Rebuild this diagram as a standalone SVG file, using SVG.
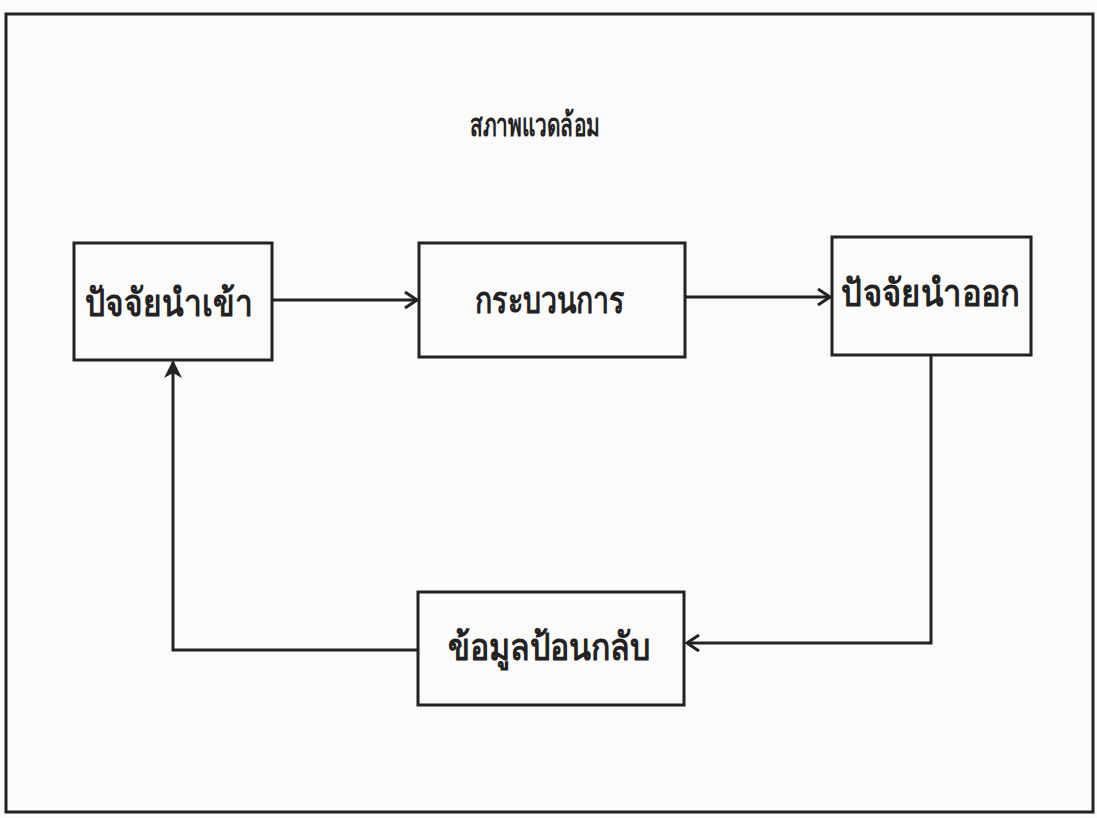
<svg xmlns="http://www.w3.org/2000/svg" width="1097" height="818" viewBox="0 0 1097 818">
<style>
.box{fill:none;stroke:#222;stroke-width:3}
.ln{fill:none;stroke:#222;stroke-width:3}
.t{font-family:"Noto Sans","DejaVu Sans",sans-serif;font-size:38px;fill:#222;text-anchor:middle;font-weight:bold}
.tt{font-size:32px}
</style>
<defs>
<marker id="open" markerWidth="16" markerHeight="18" refX="14" refY="9" orient="auto" markerUnits="userSpaceOnUse">
<path d="M2,1 L14,9 L2,17" fill="none" stroke="#222" stroke-width="3"/>
</marker>
<marker id="solid" markerWidth="18" markerHeight="18" refX="16" refY="9" orient="auto" markerUnits="userSpaceOnUse">
<path d="M0,0 L18,9 L0,18 L5,9 Z" fill="#222"/>
</marker>
</defs>
<rect width="1097" height="818" fill="#fbfbfa"/>
<rect x="6" y="14" width="1087" height="798" class="box" stroke-width="3.5"/>
<g id="title"><text transform="translate(535,136) scale(0.65,1)" class="t tt">สภาพแวดล้อม</text></g>
<g id="input"><rect x="74" y="243" width="198" height="117" class="box"/><text transform="translate(169,316) scale(0.835,1)" class="t">ปัจจัยนำเข้า</text></g>
<g id="process"><rect x="419" y="243" width="266" height="114" class="box"/><text transform="translate(550,313) scale(0.75,1)" class="t">กระบวนการ</text></g>
<g id="output"><rect x="832" y="237" width="199" height="118" class="box"/><text transform="translate(931,306) scale(0.865,1)" class="t">ปัจจัยนำออก</text></g>
<g id="feedback"><rect x="418" y="592" width="266" height="113" class="box"/><text transform="translate(549,660) scale(0.845,1)" class="t">ข้อมูลป้อนกลับ</text></g>
<g id="connectors">
<line x1="272" y1="300" x2="417" y2="300" class="ln" marker-end="url(#open)"/>
<line x1="685" y1="297" x2="830" y2="297" class="ln" marker-end="url(#open)"/>
<polyline points="931,355 931,643 687,643" class="ln" marker-end="url(#open)"/>
<polyline points="418,650 173,650 173,362" class="ln" marker-end="url(#solid)"/>
</g>
</svg>
